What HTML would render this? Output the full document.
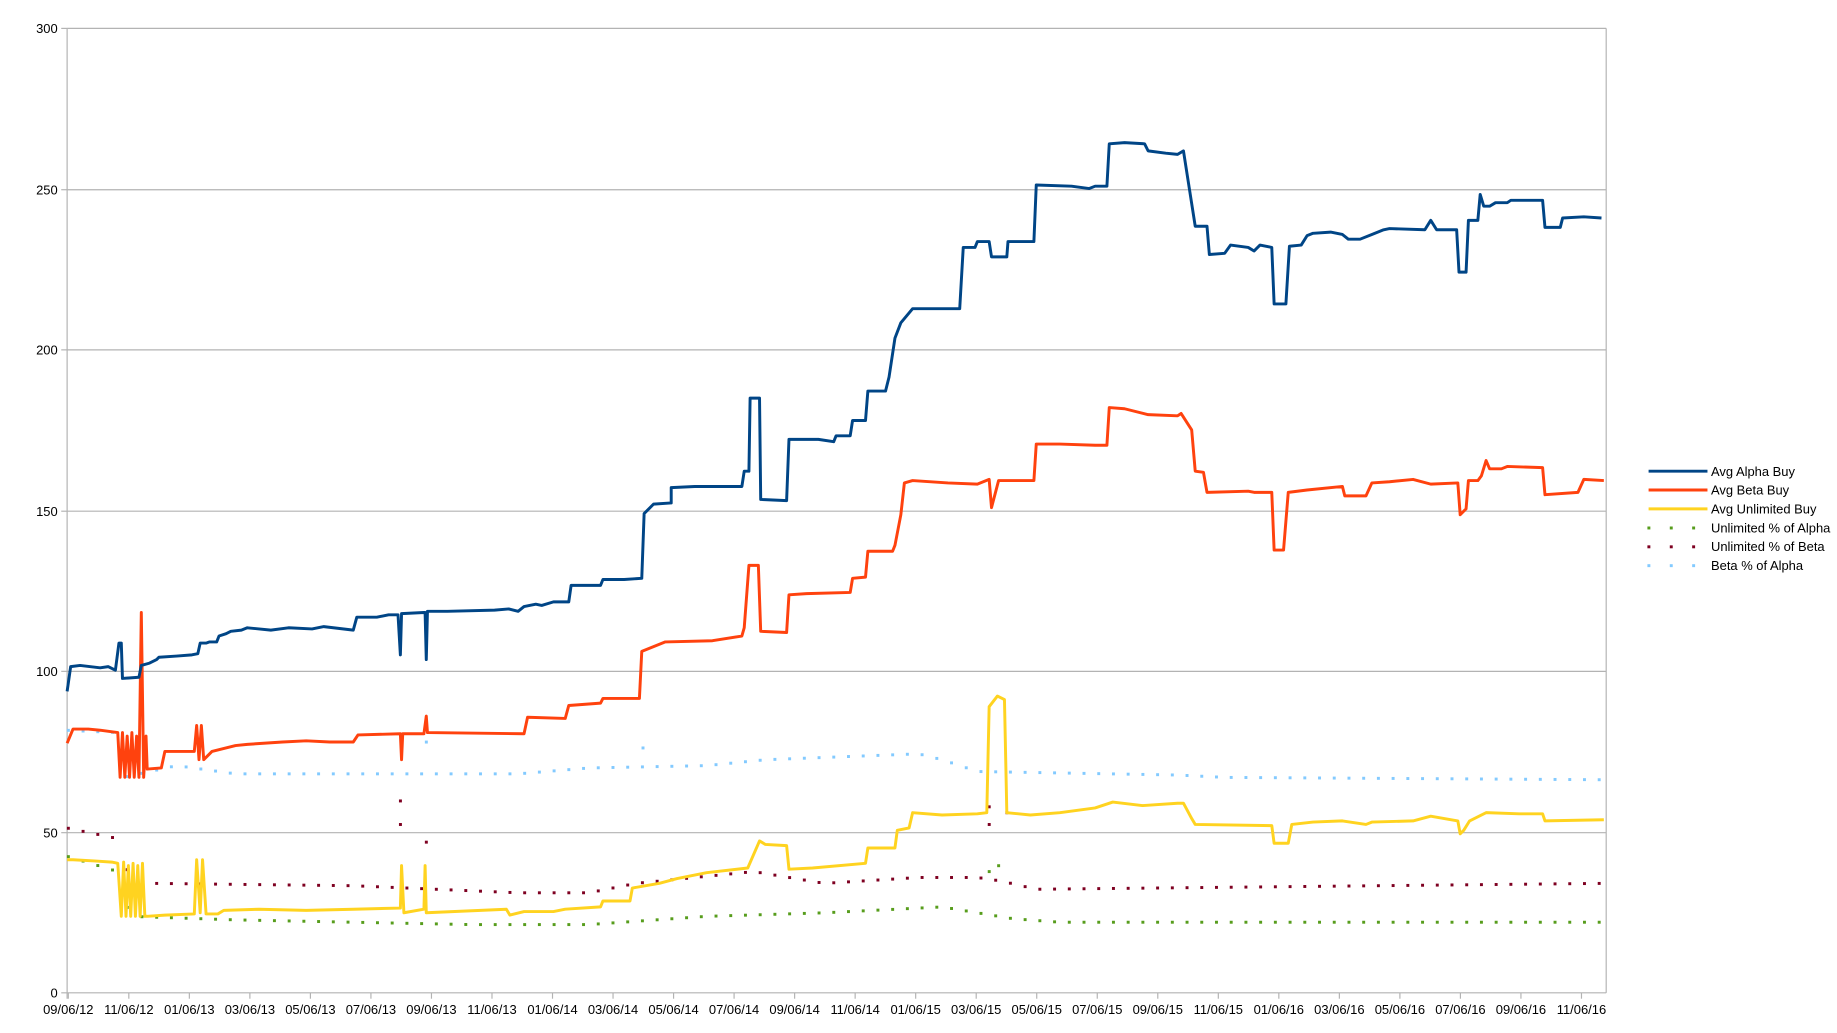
<!DOCTYPE html>
<html><head><meta charset="utf-8"><style>
html,body{margin:0;padding:0;background:#fff;width:1837px;height:1033px;overflow:hidden}
svg{display:block}
text{font-family:"Liberation Sans",sans-serif;font-size:11px;fill:#000}
</style></head><body>
<svg id="s" width="1837" height="1033" viewBox="0 0 1560 877" xmlns="http://www.w3.org/2000/svg">
<g stroke="#b3b3b3" stroke-width="1">
<line x1="57" y1="24" x2="1364" y2="24"/><line x1="57" y1="161" x2="1364" y2="161"/>
<line x1="57" y1="297" x2="1364" y2="297"/><line x1="57" y1="434" x2="1364" y2="434"/>
<line x1="57" y1="570" x2="1364" y2="570"/><line x1="57" y1="707" x2="1364" y2="707"/>
<line x1="57" y1="843" x2="1364" y2="843"/>
<line x1="57" y1="24" x2="57" y2="848"/><line x1="1364" y1="24" x2="1364" y2="843"/>
<line x1="52" y1="24" x2="57" y2="24"/><line x1="52" y1="161" x2="57" y2="161"/><line x1="52" y1="297" x2="57" y2="297"/><line x1="52" y1="434" x2="57" y2="434"/><line x1="52" y1="570" x2="57" y2="570"/><line x1="52" y1="707" x2="57" y2="707"/><line x1="52" y1="843" x2="57" y2="843"/>
</g>
<g id="ticks" stroke="#b3b3b3"></g>
<g text-anchor="end">
<text x="49" y="28">300</text><text x="49" y="165">250</text><text x="49" y="301">200</text><text x="49" y="438">150</text><text x="49" y="574">100</text><text x="49" y="711">50</text><text x="49" y="847">0</text>
</g>
<g id="xl" text-anchor="middle"></g>
<g id="dots"></g>
<polyline fill="none" stroke="#ffd320" stroke-width="2.5" stroke-linejoin="round" points="57,730 62,730 80,731 95,732 100,733 103,778 105,732 107,778 109,735 111,778 113,733 115,778 117,735 119,778 121,733 123,778 125,778 140,777 165,776 167,730 170,775 172,730 175,776 185,776 190,773 220,772 260,773 300,772 340,771 341,735 343,775 360,772 361,735 362,775 430,772 433,777 445,774 470,774 480,772 510,770 512,765 535,765 537,754 560,750 575,746 600,741 635,737 645,714 650,717 668,718 670,738 690,737 735,733 737,720 760,720 762,705 772,703 775,690 800,692 830,691 838,690 840,600 847,591 853,594 855,690 875,692 900,690 930,686 945,681 970,684 1000,682 1005,682 1012,695 1015,700 1080,701 1082,716 1094,716 1097,700 1115,698 1140,697 1160,700 1165,698 1200,697 1215,693 1238,697 1240,708 1243,705 1248,697 1262,690 1290,691 1310,691 1312,697 1362,696"/>
<polyline fill="none" stroke="#ff420e" stroke-width="2.5" stroke-linejoin="round" points="57,631 62,619 75,619 85,620 100,622 102,660 104,622 106,660 108,625 110,660 112,622 114,660 116,625 118,660 120,520 122,660 124,625 125,653 137,652 140,638 165,638 167,616 169,645 171,616 173,645 180,638 200,633 210,632 240,630 260,629 280,630 300,630 304,624 340,623 341,645 342,623 360,623 362,608 363,622 445,623 448,609 480,610 483,599 510,597 512,593 543,593 545,553 565,545 605,544 630,540 632,533 636,480 644,480 646,536 668,537 670,505 685,504 722,503 724,491 735,490 737,468 758,468 760,463 765,437 768,410 775,408 805,410 830,411 840,407 842,431 848,408 878,408 880,377 900,377 930,378 940,378 942,346 955,347 975,352 1000,353 1003,351 1012,365 1015,400 1022,401 1025,418 1060,417 1065,418 1080,418 1082,467 1090,467 1094,418 1110,416 1140,413 1142,421 1160,421 1165,410 1180,409 1200,407 1215,411 1238,410 1240,437 1245,432 1247,408 1255,408 1258,404 1262,391 1265,398 1275,398 1280,396 1310,397 1312,420 1340,418 1345,407 1362,408"/>
<polyline fill="none" stroke="#004586" stroke-width="2.5" stroke-linejoin="round" points="57,587 60,566 68,565 85,567 92,566 98,569 101,546 103,546 104,576 118,575 120,565 127,563 133,560 135,558 150,557 163,556 168,555 170,546 175,546 178,545 184,545 186,540 192,538 196,536 205,535 210,533 230,535 245,533 265,534 275,532 300,535 303,524 320,524 330,522 338,522 340,556 341,521 360,520 361,520 362,560 363,519 380,519 420,518 432,517 440,519 445,515 455,513 460,514 470,511 483,511 485,497 510,497 512,492 530,492 545,491 547,436 555,428 570,427 570,414 590,413 630,413 632,400 636,400 637,338 645,338 646,424 668,425 670,373 695,373 708,375 710,370 722,370 724,357 735,357 737,332 752,332 755,320 760,287 765,274 775,262 815,262 818,210 828,210 830,205 840,205 842,218 855,218 856,205 878,205 880,157 910,158 925,160 930,158 940,158 942,122 955,121 972,122 975,128 990,130 1000,131 1005,128 1010,160 1015,192 1025,192 1027,216 1040,215 1045,208 1060,210 1065,213 1070,208 1080,210 1082,258 1092,258 1095,209 1105,208 1110,200 1115,198 1130,197 1140,199 1145,203 1155,203 1165,199 1175,195 1180,194 1210,195 1215,187 1220,195 1237,195 1239,231 1245,231 1247,187 1255,187 1257,165 1260,175 1265,175 1270,172 1280,172 1283,170 1310,170 1312,193 1325,193 1327,185 1345,184 1360,185"/>
<g stroke-width="2.5">
<line x1="1400" y1="400" x2="1450" y2="400" stroke="#004586"/>
<line x1="1400" y1="416" x2="1450" y2="416" stroke="#ff420e"/>
<line x1="1400" y1="432" x2="1450" y2="432" stroke="#ffd320"/>
</g>
<g>
<rect x="1399" y="447" width="2.5" height="2.5" fill="#579d1c"/><rect x="1418" y="447" width="2.5" height="2.5" fill="#579d1c"/><rect x="1437" y="447" width="2.5" height="2.5" fill="#579d1c"/>
<rect x="1399" y="463" width="2.5" height="2.5" fill="#7e0021"/><rect x="1418" y="463" width="2.5" height="2.5" fill="#7e0021"/><rect x="1437" y="463" width="2.5" height="2.5" fill="#7e0021"/>
<rect x="1399" y="479" width="2.5" height="2.5" fill="#83caff"/><rect x="1418" y="479" width="2.5" height="2.5" fill="#83caff"/><rect x="1437" y="479" width="2.5" height="2.5" fill="#83caff"/>
</g>
<text x="1453" y="404">Avg Alpha Buy</text>
<text x="1453" y="420">Avg Beta Buy</text>
<text x="1453" y="436">Avg Unlimited Buy</text>
<text x="1453" y="452">Unlimited % of Alpha</text>
<text x="1453" y="468">Unlimited % of Beta</text>
<text x="1453" y="484">Beta % of Alpha</text>
</svg>
<script>
var NS="http://www.w3.org/2000/svg";
var labels=["09/06/12","11/06/12","01/06/13","03/06/13","05/06/13","07/06/13","09/06/13","11/06/13","01/06/14","03/06/14","05/06/14","07/06/14","09/06/14","11/06/14","01/06/15","03/06/15","05/06/15","07/06/15","09/06/15","11/06/15","01/06/16","03/06/16","05/06/16","07/06/16","09/06/16","11/06/16"];
var tk=document.getElementById("ticks"),xl=document.getElementById("xl");
labels.forEach(function(l,i){var x=58+i*51.4;
var ln=document.createElementNS(NS,"line");ln.setAttribute("x1",x);ln.setAttribute("x2",x);ln.setAttribute("y1",843);ln.setAttribute("y2",848);tk.appendChild(ln);
var t=document.createElementNS(NS,"text");t.setAttribute("x",x);t.setAttribute("y",861);t.textContent=l;xl.appendChild(t);});
function f(pts,x){for(var i=1;i<pts.length;i++){if(x<=pts[i][0]){var a=pts[i-1],b=pts[i];return a[1]+(b[1]-a[1])*(x-a[0])/(b[0]-a[0]);}}return pts[pts.length-1][1];}
var series=[
["#83caff",[[57,620],[100,622],[105,660],[150,650],[200,657],[440,657],[500,652],[600,650],[650,645],[780,640],[800,645],[830,655],[1000,658],[1040,660],[1362,662]]],
["#7e0021",[[57,703],[100,712],[110,745],[130,750],[300,752],[440,758],[500,758],[540,750],[640,740],[700,750],[780,745],[830,745],[850,748],[880,755],[1362,750]]],
["#579d1c",[[57,727],[100,740],[110,778],[200,781],[400,785],[500,785],[600,778],[700,775],[800,770],[830,775],[860,780],[900,783],[1362,783]]]
];
var d=document.getElementById("dots");
series.forEach(function(s){for(var x=58;x<1362;x+=12.5){var r=document.createElementNS(NS,"rect");r.setAttribute("x",x-1.2);r.setAttribute("y",f(s[1],x)-1.2);r.setAttribute("width",2.5);r.setAttribute("height",2.5);r.setAttribute("fill",s[0]);d.appendChild(r);}});
[[840,685,"#7e0021"],[840,700,"#7e0021"],[855,690,"#7e0021"],[340,680,"#7e0021"],[340,700,"#7e0021"],[362,715,"#7e0021"],[840,740,"#579d1c"],[848,735,"#579d1c"],[546,635,"#83caff"],[362,630,"#83caff"]].forEach(function(p){var r=document.createElementNS(NS,"rect");r.setAttribute("x",p[0]-1.2);r.setAttribute("y",p[1]-1.2);r.setAttribute("width",2.5);r.setAttribute("height",2.5);r.setAttribute("fill",p[2]);d.appendChild(r);});
</script>
</body></html>
